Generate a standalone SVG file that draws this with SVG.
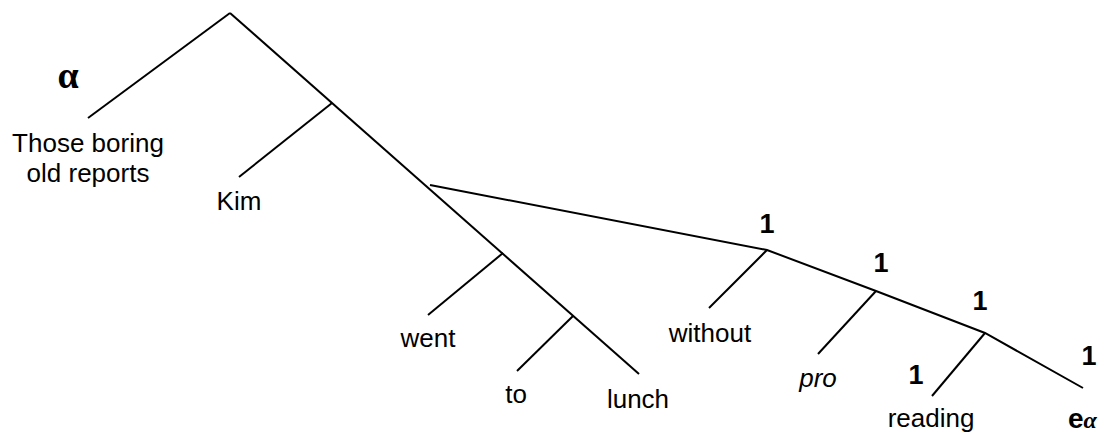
<svg xmlns="http://www.w3.org/2000/svg" width="1104" height="435" viewBox="0 0 1104 435">
<style>
.edge{stroke:#000;stroke-width:2;fill:none;stroke-linecap:butt}
.lbl{font-family:"Liberation Sans",Arial,sans-serif;font-size:26px;fill:#000;text-anchor:middle}
.one{font-family:"Liberation Sans",Arial,sans-serif;font-size:27px;font-weight:bold;fill:#000;text-anchor:middle}
.it{font-style:italic}
</style>
<rect width="1104" height="435" fill="#fff"/>
<g id="connectors">
<line class="edge" x1="230" y1="13" x2="88" y2="118"/>
<line class="edge" x1="230" y1="13" x2="639" y2="374"/>
<line class="edge" x1="332" y1="103" x2="239" y2="177"/>
<line class="edge" x1="503" y1="253" x2="428" y2="315"/>
<line class="edge" x1="573" y1="316" x2="517" y2="371"/>
<polyline class="edge" points="430,185 767,250 876,291 985,333 1083,388"/>
<line class="edge" x1="767" y1="250" x2="709" y2="308"/>
<line class="edge" x1="876" y1="291" x2="818" y2="354"/>
<line class="edge" x1="985" y1="333" x2="932" y2="396"/>
</g>
<g id="alpha"><text x="68" y="88" text-anchor="middle" font-family="'Liberation Serif','Times New Roman',serif" font-size="38" font-weight="bold">α</text></g>
<g id="those"><text class="lbl" x="88" y="152">Those boring</text><text class="lbl" x="88" y="182">old reports</text></g>
<g id="kim"><text class="lbl" x="239" y="210">Kim</text></g>
<g id="went"><text class="lbl" x="428" y="347">went</text></g>
<g id="to"><text class="lbl" x="516" y="403">to</text></g>
<g id="lunch"><text class="lbl" x="638" y="408">lunch</text></g>
<g id="without"><text class="lbl" x="710" y="342">without</text><text class="one" x="767" y="233">1</text></g>
<g id="pro"><text class="lbl it" x="818" y="387">pro</text><text class="one" x="881" y="272">1</text></g>
<g id="reading"><text class="lbl" x="931" y="427">reading</text><text class="one" x="916" y="384">1</text><text class="one" x="980" y="310">1</text></g>
<g id="e-alpha"><text x="1068" y="428" font-family="'Liberation Sans',Arial,sans-serif" font-size="28" font-weight="bold">e<tspan font-size="24" font-style="italic" font-family="'Liberation Serif','Times New Roman',serif">α</tspan></text><text class="one" x="1089" y="365">1</text></g>
</svg>
